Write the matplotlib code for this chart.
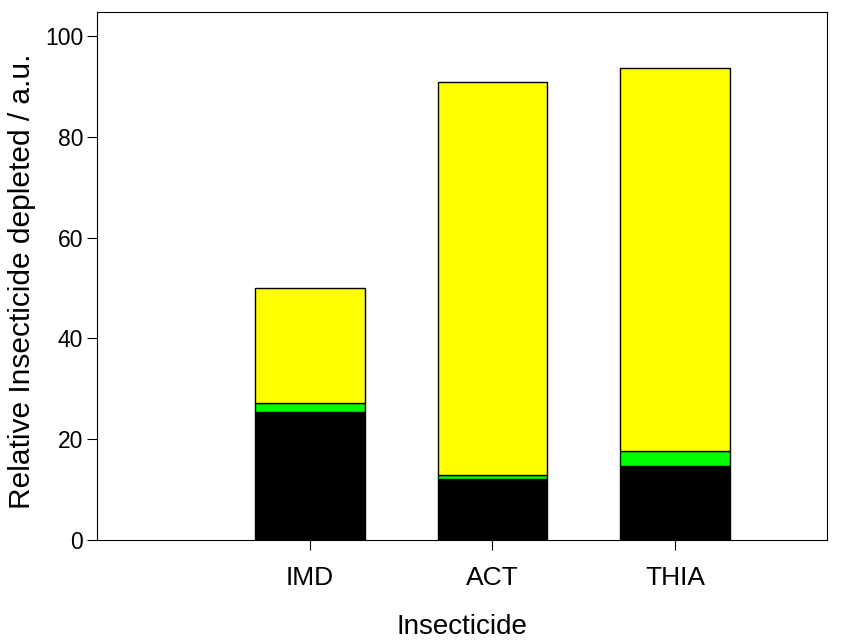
import matplotlib.pyplot as plt
import numpy as np

plt.rcParams['font.family'] = ['Liberation Sans', 'DejaVu Sans']

categories = ['IMD', 'ACT', 'THIA']
black_part = [25.4, 12.2, 14.7]
green_part = [1.8, 0.7, 2.9]
yellow_part = [22.9, 78.0, 76.1]

x = np.arange(1, len(categories) + 1)
fig = plt.figure(figsize=(8.48, 6.43), dpi=100)
ax = fig.add_axes([0.1144, 0.1602, 0.8608, 0.8211])

bottom = np.zeros(len(categories))
for vals, col in [(black_part, '#000000'), (green_part, '#00ff00'), (yellow_part, '#ffff00')]:
    ax.bar(x, vals, width=0.6, bottom=bottom, color=col, edgecolor='black', linewidth=1)
    bottom += np.array(vals)

ax.set_xlim(-0.167, 3.833)
ax.set_ylim(0, 104.8)
ax.set_xticks(x)
ax.set_xticklabels(categories)
ax.set_yticks([0, 20, 40, 60, 80, 100])
ax.tick_params(axis='y', direction='out', length=7, labelsize=16.5, pad=3)
ax.tick_params(axis='x', direction='out', length=7, labelsize=19, pad=12)

# label positions in axes fraction, centred on the text
ax.set_xlabel('Insecticide', fontsize=20, va='center')
ax.xaxis.set_label_coords(0.5, -0.165)
ax.set_ylabel('Relative Insecticide depleted / a.u.', fontsize=21.5, va='center')
ax.yaxis.set_label_coords(-0.103, 0.49)

fig.savefig('out.png', dpi=100)
